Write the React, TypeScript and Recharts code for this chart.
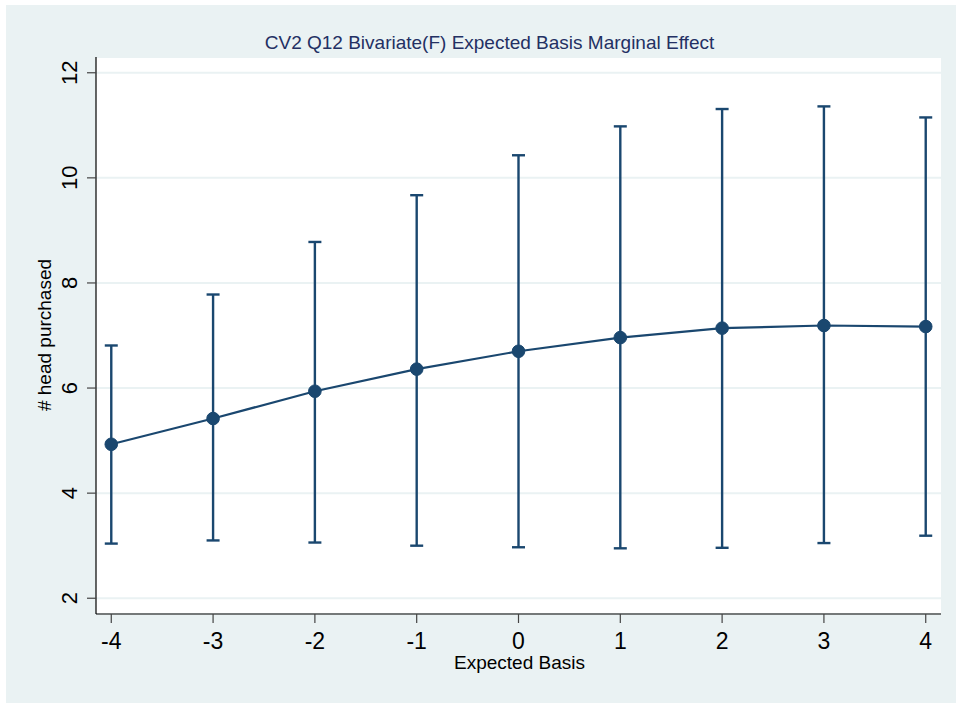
import React from 'react';
import { ComposedChart, Line, ErrorBar, XAxis, YAxis, CartesianGrid } from 'recharts';

const basis = [-4, -3, -2, -1, 0, 1, 2, 3, 4];
const margins = [4.93, 5.42, 5.94, 6.36, 6.70, 6.96, 7.14, 7.19, 7.17];
const lowerCI = [3.04, 3.10, 3.06, 3.00, 2.97, 2.95, 2.96, 3.05, 3.19];
const upperCI = [6.81, 7.78, 8.78, 9.67, 10.43, 10.98, 11.31, 11.36, 11.15];
const yTicks = [2, 4, 6, 8, 10, 12];

const NAVY = '#1A476F';
const BG = '#EAF2F3';
const FONT = '"Liberation Sans", Arial, Helvetica, sans-serif';

const data = basis.map((x, i) => ({
  x,
  margin: margins[i],
  ci: [margins[i] - lowerCI[i], upperCI[i] - margins[i]],
}));

const YTick = (props: any) => {
  const { x, y, payload } = props;
  return (
    <text x={x} y={y} transform={`rotate(-90 ${x} ${y})`} textAnchor="middle"
      fontSize={22} fontFamily={FONT} fill="#000">
      {payload.value}
    </text>
  );
};

const XTick = (props: any) => {
  const { x, y, payload } = props;
  return (
    <text x={x} y={y} dy="0.71em" textAnchor="middle" fontSize={23} fontFamily={FONT} fill="#000">
      {payload.value}
    </text>
  );
};

export default function App() {
  return (
    <div style={{ position: 'absolute', left: 0, top: 0, width: 956, height: 703, background: '#fff' }}>
      <div style={{ position: 'absolute', left: 6, top: 5, right: 0, bottom: 0, background: BG }} />
      <div style={{ position: 'absolute', left: 0, top: 0 }}>
        <ComposedChart width={956} height={703} data={data}
          margin={{ top: 57, right: 15, bottom: 49, left: 0 }}>
          <CartesianGrid vertical={false} stroke={BG} strokeWidth={2} fill="#fff" fillOpacity={1} />
          <XAxis dataKey="x" type="number" domain={[-4.15, 4.15]} ticks={basis}
            allowDataOverflow height={40} tickSize={9} tickMargin={10}
            axisLine={{ stroke: '#000', strokeWidth: 1.2 }} tickLine={{ stroke: '#444', strokeWidth: 1.2 }}
            tick={<XTick />} />
          <YAxis type="number" domain={[1.7, 12.3]} ticks={yTicks} allowDataOverflow
            width={96} tickSize={9} tickMargin={10}
            axisLine={{ stroke: '#000', strokeWidth: 1.2 }} tickLine={{ stroke: '#444', strokeWidth: 1.2 }}
            tick={<YTick />} />
          <Line dataKey="margin" type="linear" stroke={NAVY} strokeWidth={2.2}
            dot={{ r: 6.3, fill: NAVY, stroke: NAVY, strokeWidth: 1 }} activeDot={false}
            isAnimationActive={false}>
            <ErrorBar dataKey="ci" direction="y" width={6.5} stroke={NAVY} strokeWidth={2.4}
              isAnimationActive={false} />
          </Line>
        </ComposedChart>
      </div>
      <svg width={956} height={703} style={{ position: 'absolute', left: 0, top: 0, pointerEvents: 'none' }}>
        <text x={489.5} y={49} textAnchor="middle" fontSize={19} fontFamily={FONT} fill="#233063">
          CV2 Q12 Bivariate(F) Expected Basis Marginal Effect
        </text>
        <text x={519.5} y={669} textAnchor="middle" fontSize={19} fontFamily={FONT} fill="#000">
          Expected Basis
        </text>
        <text x={51} y={335} transform="rotate(-90 51 335)" textAnchor="middle" fontSize={19}
          fontFamily={FONT} fill="#000">
          # head purchased
        </text>
      </svg>
    </div>
  );
}
